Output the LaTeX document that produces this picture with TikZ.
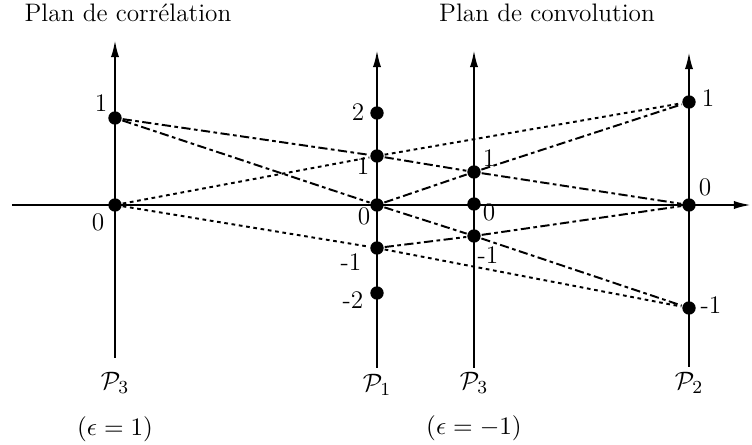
\documentclass[tikz,border=0pt]{standalone}
\usetikzlibrary{arrows.meta}
\begin{document}
\begin{tikzpicture}[x=0.435pt, y=-0.435pt, line width=0.95pt,
  every node/.style={font=\fontsize{11}{13}\selectfont},
  dot/.style={circle, fill, inner sep=0pt, minimum size=5.8pt},
  axe/.style={-{Latex[length=7.5pt,width=3.6pt]}},
  dashdot/.style={line width=0.85pt, dash pattern=on 4pt off 1.5pt on 1.6pt off 1.5pt},
  shortdash/.style={line width=0.85pt, dash pattern=on 1.6pt off 1.6pt},
  lab/.style={inner sep=0pt}]
\useasboundingbox (0,0) rectangle (752,445);

% axes
\coordinate (hL) at (12,205);
\coordinate (hR) at (751,205);
\coordinate (uB) at (115,358);
\coordinate (uT) at (115,40);
\coordinate (pB) at (377,368);
\coordinate (pT) at (377,50);
\coordinate (vB) at (474,368);
\coordinate (vT) at (474,50);
\coordinate (rB) at (689,367);
\coordinate (rT) at (689,52);
\draw[axe] (hL) -- (hR);
\draw[axe] (uB) -- (uT);
\draw[axe] (pB) -- (pT);
\draw[axe] (vB) -- (vT);
\draw[axe] (rB) -- (rT);

% points
\node[dot] (u1) at (115,118) {};
\node[dot] (u0) at (115,205) {};
\node[dot] (p2) at (377,113) {};
\node[dot] (p1) at (377,156) {};
\node[dot] (p0) at (377,205) {};
\node[dot] (pm1) at (377,248) {};
\node[dot] (pm2) at (377,293) {};
\node[dot] (v1) at (474,172) {};
\node[dot] (v0) at (474,204) {};
\node[dot] (vm1) at (474,236) {};
\node[dot] (r1) at (689,102) {};
\node[dot] (r0) at (689,205) {};
\node[dot] (rm1) at (689,308) {};

% rays
\draw[dashdot] (u1) -- (p1) -- (v1) -- (r0);
\draw[dashdot] (u1) -- (p0) -- (vm1) -- (rm1);
\draw[dashdot] (p0) -- (v1) -- (r1);
\draw[dashdot] (pm1) -- (vm1) -- (r0);
\draw[shortdash] (u0) -- (p1) -- (r1);
\draw[shortdash] (u0) -- (pm1) -- (rm1);

% values
\node[lab] (tu1) at (101,103) {1};
\node[lab] (tu0) at (98,222) {0};
\node[lab] (tp2) at (358,112) {2};
\node[lab] (tp1) at (363,166) {1};
\node[lab] (tp0) at (364,216) {0};
\node[lab] (tpm1) at (351,262) {-1};
\node[lab] (tpm2) at (353,300) {-2};
\node[lab] (tv1) at (489,158) {1};
\node[lab] (tv0) at (489,212) {0};
\node[lab] (tvm1) at (488,255) {-1};
\node[lab] (tr1) at (708,98) {1};
\node[lab] (tr0) at (705,187) {0};
\node[lab] (trm1) at (711,305) {-1};

% planes
\node (nu) at (115,383) {$\mathcal{P}_3$};
\node (np) at (377,385) {$\mathcal{P}_1$};
\node (nv) at (474,383) {$\mathcal{P}_3$};
\node (nr) at (689,383) {$\mathcal{P}_2$};
\node (eu) at (115,429) {$(\epsilon=1)$};
\node (ev) at (474,428) {$(\epsilon=-1)$};
\node (titleC) at (128,13) {Plan de corrélation};
\node (titleV) at (547,13) {Plan de convolution};
\end{tikzpicture}
\end{document}
